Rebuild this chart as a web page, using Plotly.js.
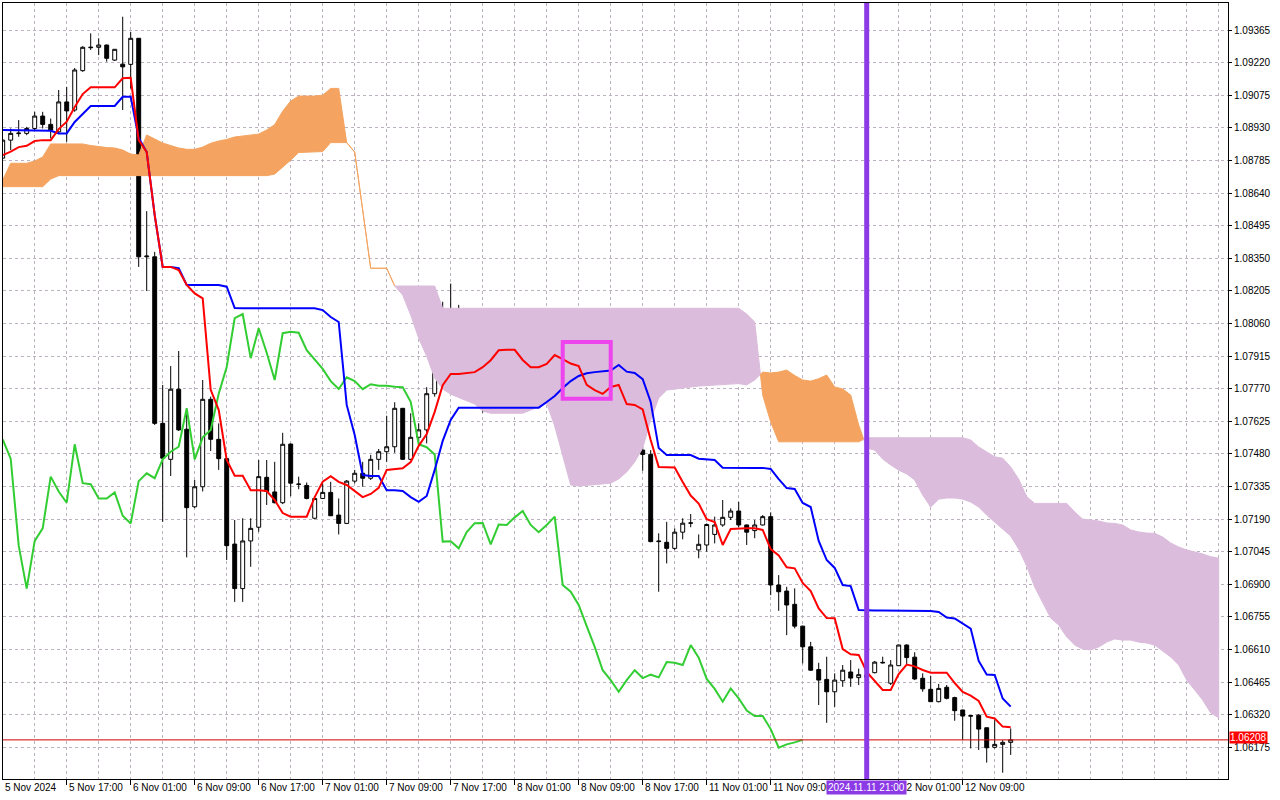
<!DOCTYPE html>
<html><head><meta charset="utf-8">
<script src="https://cdn.plot.ly/plotly-3.0.1.min.js"></script>
<style>html,body{margin:0;padding:0;background:#fff}#chart{width:1280px;height:800px}</style>
</head><body><div id="chart"></div>
<script>
// EURUSD H1, bar index 0 = 5 Nov 2024 09:00
const openP = [1.08796,1.08876,1.08905,1.08906,1.08928,1.08983,1.08946,1.08913,1.09046,1.09010,
1.09185,1.09287,1.09289,1.09299,1.09232,1.09214,1.09213,1.09329,1.08357,1.08357,
1.07616,1.07456,1.07768,1.07590,1.07245,1.07334,1.07723,1.07545,1.07459,1.07079,
1.06881,1.07093,1.07154,1.07376,1.07311,1.07263,1.07524,1.07346,1.07340,1.07194,
1.07282,1.07309,1.07208,1.07171,1.07359,1.07394,1.07372,1.07456,1.07490,1.07512,
1.07683,1.07456,1.07554,1.07587,1.07748,1.07870,1.08084,1.08098,1.07906,1.08039,
1.07938,1.07812,1.08021,1.08027,1.08033,1.07950,1.07898,1.07861,1.07804,1.07768,
1.07818,1.07801,1.07768,1.07795,1.07781,1.07790,1.07783,1.07824,1.07712,1.07526,
1.07497,1.07478,1.07090,1.07087,1.07060,1.07132,1.07172,1.07053,1.07075,1.07122,
1.07164,1.07198,1.07226,1.07164,1.07139,1.07164,1.07201,1.06897,1.06870,1.06811,
1.06714,1.06622,1.06521,1.06477,1.06422,1.06471,1.06510,1.06485,1.06497,1.06507,
1.06553,1.06460,1.06538,1.06630,1.06576,1.06482,1.06433,1.06378,1.06442,1.06396,
1.06341,1.06316,1.06318,1.06262,1.06175,1.06188,1.06197];
const highP = [1.08881,1.08928,1.08965,1.08935,1.09002,1.09002,1.08972,1.09099,1.09113,1.09197,
1.09294,1.09351,1.09329,1.09301,1.09281,1.09425,1.09358,1.09330,1.08560,1.08379,
1.07787,1.07871,1.07938,1.07683,1.07364,1.07809,1.07735,1.07616,1.07460,1.07186,
1.07194,1.07194,1.07453,1.07453,1.07445,1.07574,1.07526,1.07379,1.07353,1.07284,
1.07349,1.07356,1.07282,1.07364,1.07409,1.07445,1.07476,1.07502,1.07650,1.07710,
1.07684,1.07661,1.07616,1.07777,1.07897,1.08157,1.08238,1.08143,1.08057,1.08054,
1.08024,1.08088,1.08046,1.08049,1.08036,1.07957,1.07906,1.07883,1.07831,1.07827,
1.07836,1.07831,1.07817,1.07824,1.07883,1.07795,1.07809,1.07839,1.07720,1.07653,
1.07512,1.07497,1.07127,1.07178,1.07149,1.07194,1.07213,1.07122,1.07171,1.07201,
1.07275,1.07238,1.07267,1.07166,1.07186,1.07208,1.07220,1.06941,1.06889,1.06882,
1.06716,1.06644,1.06551,1.06578,1.06504,1.06541,1.06563,1.06525,1.06514,1.06559,
1.06578,1.06563,1.06632,1.06633,1.06598,1.06504,1.06492,1.06457,1.06452,1.06400,
1.06342,1.06318,1.06323,1.06263,1.06296,1.06207,1.06259];
const lowP = [1.08794,1.08832,1.08891,1.08898,1.08920,1.08928,1.08884,1.08906,1.08869,1.09002,
1.09180,1.09277,1.09254,1.09225,1.09228,1.09010,1.09106,1.08312,1.08205,1.07609,
1.07178,1.07382,1.07582,1.07020,1.07239,1.07313,1.07493,1.07409,1.07008,1.06822,
1.06822,1.06978,1.07134,1.07253,1.07260,1.07257,1.07292,1.07323,1.07278,1.07189,
1.07279,1.07204,1.07122,1.07168,1.07349,1.07334,1.07364,1.07409,1.07445,1.07485,
1.07453,1.07453,1.07519,1.07527,1.07735,1.07827,1.08043,1.07839,1.07866,1.07928,
1.07664,1.07784,1.07987,1.07974,1.07928,1.07868,1.07776,1.07769,1.07768,1.07764,
1.07773,1.07735,1.07750,1.07601,1.07738,1.07667,1.07756,1.07661,1.07438,1.07484,
1.07405,1.07087,1.06867,1.06993,1.07053,1.07100,1.07154,1.07016,1.07045,1.07082,
1.07156,1.07186,1.07154,1.07075,1.07105,1.07162,1.06852,1.06782,1.06674,1.06704,
1.06548,1.06516,1.06363,1.06284,1.06355,1.06444,1.06444,1.06452,1.06474,1.06504,
1.06548,1.06452,1.06537,1.06541,1.06474,1.06422,1.06377,1.06375,1.06388,1.06293,
1.06207,1.06170,1.06163,1.06107,1.06170,1.06062,1.06141];
const closeP = [1.08876,1.08906,1.08907,1.08928,1.08983,1.08946,1.08920,1.09046,1.09006,1.09188,
1.09289,1.09289,1.09299,1.09240,1.09280,1.09202,1.09329,1.08357,1.08360,1.07616,
1.07461,1.07768,1.07587,1.07241,1.07334,1.07723,1.07545,1.07459,1.07072,1.06881,
1.07093,1.07149,1.07379,1.07313,1.07263,1.07523,1.07350,1.07345,1.07282,1.07282,
1.07309,1.07205,1.07171,1.07359,1.07394,1.07372,1.07456,1.07490,1.07512,1.07683,
1.07456,1.07554,1.07587,1.07748,1.07867,1.08084,1.08102,1.07906,1.08039,1.07930,
1.07809,1.08017,1.08023,1.08019,1.07942,1.07898,1.07858,1.07804,1.07769,1.07821,
1.07804,1.07768,1.07790,1.07783,1.07783,1.07779,1.07777,1.07712,1.07523,1.07510,
1.07478,1.07090,1.07092,1.07060,1.07132,1.07172,1.07173,1.07078,1.07166,1.07164,
1.07198,1.07226,1.07164,1.07132,1.07164,1.07201,1.06897,1.06867,1.06808,1.06714,
1.06622,1.06518,1.06474,1.06422,1.06474,1.06518,1.06483,1.06498,1.06486,1.06554,
1.06551,1.06541,1.06630,1.06574,1.06479,1.06435,1.06378,1.06437,1.06393,1.06338,
1.06314,1.06314,1.06256,1.06173,1.06188,1.06197,1.06208];
// Tenkan-sen (red)
const tenkan = [1.08809,1.08825,1.08845,1.08851,1.08872,1.08876,1.08876,1.08925,1.08958,1.09023,
1.09081,1.09111,1.09111,1.09111,1.09111,1.09151,1.09153,1.08876,1.08823,1.08542,
1.08312,1.08312,1.08298,1.08232,1.08194,1.08172,1.07765,1.07676,1.07453,1.07383,
1.07383,1.07319,1.07319,1.07315,1.07275,1.07217,1.07201,1.07201,1.07201,1.07288,
1.07357,1.07381,1.07356,1.07342,1.07315,1.07288,1.07302,1.07329,1.07409,1.07413,
1.07416,1.07444,1.07516,1.07569,1.07667,1.07786,1.07836,1.07836,1.07839,1.07844,
1.07866,1.07897,1.07941,1.07944,1.07943,1.07898,1.07866,1.07866,1.07880,1.07920,
1.07902,1.07882,1.07871,1.07787,1.07764,1.07747,1.07778,1.07787,1.07702,1.07698,
1.07678,1.07542,1.07422,1.07421,1.07420,1.07355,1.07295,1.07259,1.07190,1.07177,
1.07075,1.07146,1.07149,1.07149,1.07149,1.07142,1.07057,1.07028,1.06976,1.06971,
1.06906,1.06870,1.06793,1.06750,1.06749,1.06612,1.06589,1.06586,1.06510,1.06470,
1.06430,1.06430,1.06501,1.06543,1.06535,1.06519,1.06507,1.06507,1.06507,1.06461,
1.06421,1.06405,1.06381,1.06311,1.06303,1.06267,1.06264];
// Kijun-sen (blue)
const kijun = [1.08921,1.08921,1.08921,1.08921,1.08921,1.08921,1.08918,1.08906,1.08906,1.08957,
1.08992,1.09028,1.09028,1.09028,1.09028,1.09069,1.09069,1.08885,1.08823,1.08542,
1.08312,1.08312,1.08307,1.08232,1.08232,1.08232,1.08232,1.08232,1.08224,1.08129,
1.08128,1.08128,1.08128,1.08128,1.08128,1.08128,1.08128,1.08128,1.08128,1.08128,
1.08120,1.08089,1.08067,1.07698,1.07564,1.07386,1.07382,1.07382,1.07319,1.07319,
1.07315,1.07288,1.07267,1.07293,1.07409,1.07538,1.07631,1.07686,1.07686,1.07686,
1.07686,1.07686,1.07686,1.07686,1.07686,1.07686,1.07686,1.07686,1.07711,1.07738,
1.07773,1.07804,1.07827,1.07839,1.07844,1.07849,1.07851,1.07876,1.07846,1.07840,
1.07813,1.07711,1.07506,1.07475,1.07475,1.07475,1.07475,1.07459,1.07455,1.07453,
1.07419,1.07418,1.07418,1.07418,1.07418,1.07418,1.07413,1.07368,1.07328,1.07324,
1.07262,1.07244,1.07093,1.07008,1.06973,1.06897,1.06892,1.06786,1.06784,1.06784,
1.06784,1.06784,1.06784,1.06784,1.06784,1.06783,1.06781,1.06777,1.06752,1.06748,
1.06724,1.06703,1.06559,1.06499,1.06497,1.06392,1.06356];
// Senkou Span A / B (already shifted 26 bars forward, bars 0..152)
const spanA = [1.08698,1.08773,1.08773,1.08773,1.08783,1.08801,1.08859,1.08859,1.08859,1.08859,
1.08859,1.08852,1.08847,1.08843,1.08841,1.08832,1.08814,1.08810,1.08899,1.08881,
1.08863,1.08852,1.08841,1.08835,1.08835,1.08845,1.08862,1.08872,1.08879,1.08890,
1.08894,1.08899,1.08903,1.08921,1.08945,1.09005,1.09050,1.09072,1.09072,1.09072,
1.09076,1.09106,1.09106,1.08865,1.08823,1.08565,1.08306,1.08306,1.08306,1.08227,
1.08187,1.08098,1.07995,1.07915,1.07818,1.07769,1.07746,1.07731,1.07718,1.07702,
1.07671,1.07661,1.07661,1.07661,1.07661,1.07661,1.07675,1.07689,1.07705,1.07604,
1.07475,1.07342,1.07337,1.07340,1.07342,1.07346,1.07350,1.07369,1.07400,1.07444,
1.07506,1.07631,1.07729,1.07764,1.07769,1.07773,1.07778,1.07782,1.07784,1.07787,
1.07787,1.07791,1.07793,1.07787,1.07809,1.07844,1.07840,1.07844,1.07853,1.07829,
1.07809,1.07804,1.07815,1.07831,1.07778,1.07769,1.07742,1.07609,1.07506,1.07497,
1.07457,1.07431,1.07408,1.07391,1.07364,1.07297,1.07244,1.07279,1.07284,1.07284,
1.07279,1.07266,1.07244,1.07208,1.07177,1.07142,1.07115,1.07057,1.06981,1.06888,
1.06817,1.06750,1.06719,1.06666,1.06630,1.06612,1.06608,1.06621,1.06643,1.06657,
1.06652,1.06652,1.06643,1.06639,1.06630,1.06603,1.06577,1.06541,1.06474,1.06430,
1.06385,1.06328,1.06306];
const spanB = [1.08669,1.08669,1.08669,1.08669,1.08669,1.08669,1.08703,1.08718,1.08718,1.08718,
1.08718,1.08718,1.08718,1.08718,1.08718,1.08718,1.08718,1.08718,1.08718,1.08718,
1.08718,1.08718,1.08718,1.08718,1.08718,1.08718,1.08718,1.08718,1.08718,1.08718,
1.08718,1.08718,1.08718,1.08718,1.08725,1.08756,1.08787,1.08821,1.08823,1.08823,
1.08825,1.08865,1.08865,1.08865,1.08823,1.08565,1.08306,1.08306,1.08306,1.08227,
1.08227,1.08227,1.08227,1.08227,1.08227,1.08128,1.08128,1.08128,1.08128,1.08128,
1.08128,1.08128,1.08128,1.08128,1.08128,1.08128,1.08128,1.08128,1.08128,1.08128,
1.08128,1.08128,1.08128,1.08128,1.08128,1.08128,1.08128,1.08128,1.08128,1.08128,
1.08128,1.08128,1.08128,1.08128,1.08128,1.08128,1.08128,1.08128,1.08128,1.08128,
1.08128,1.08128,1.08128,1.08102,1.08067,1.07742,1.07622,1.07534,1.07534,1.07534,
1.07534,1.07534,1.07534,1.07534,1.07534,1.07534,1.07534,1.07534,1.07552,1.07552,
1.07552,1.07552,1.07552,1.07552,1.07552,1.07552,1.07552,1.07552,1.07552,1.07552,
1.07552,1.07542,1.07511,1.07489,1.07467,1.07461,1.07422,1.07368,1.07290,1.07260,
1.07260,1.07260,1.07260,1.07260,1.07222,1.07190,1.07186,1.07182,1.07173,1.07171,
1.07164,1.07142,1.07133,1.07128,1.07127,1.07110,1.07084,1.07066,1.07053,1.07044,
1.07035,1.07023,1.07016];
const chikouShift = 26;
// time-axis labels (the 11 Nov 17:00 label is covered by the cursor label in the original)
const labelBars = [0,8,16,24,32,40,48,56,64,72,80,88,96,112,120];
const timeLabels = ["5 Nov 2024","5 Nov 17:00","6 Nov 01:00","6 Nov 09:00","6 Nov 17:00","7 Nov 01:00","7 Nov 09:00","7 Nov 17:00","8 Nov 01:00","8 Nov 09:00","8 Nov 17:00","11 Nov 01:00","11 Nov 09:00","12 Nov 01:00","12 Nov 09:00"];
const tickBars = [0,8,16,24,32,40,48,56,64,72,80,88,96,104,112,120];
const yTicks = [1.06175,1.06320,1.06465,1.06610,1.06755,1.06900,1.07045,1.07190,1.07335,1.07480,1.07625,1.07770,1.07915,1.08060,1.08205,1.08350,1.08495,1.08640,1.08785,1.08930,1.09075,1.09220,1.09365];
const bidPrice = 1.06208;
const markerBar = 108;
const markerLabel = "2024.11.11 21:00";
const boxBars = [70, 76];
const boxPrices = [1.07726, 1.07978];

const X_RANGE = [0.0375, 153.1625];
const ORANGE = '#f4a460', THISTLE = '#dbbcdc', GRID = '#bdb3c0';
const FONT = {family:'Liberation Sans, Arial, sans-serif', size:10, color:'#000'};
const bars = closeP.map((_, i) => i);

function crossAt(a, b) {
  const da = spanA[a] - spanB[a], db = spanA[b] - spanB[b];
  const t = (da - db) === 0 ? 0 : da / (da - db);
  return {x: a + t, y: spanA[a] + t * (spanA[b] - spanA[a])};
}
const traces = [];
let i = 0;
const n = spanA.length;
while (i < n) {
  const up = spanA[i] >= spanB[i];
  const xs = [], ya = [], yb = [];
  if (i > 0) { const c = crossAt(i - 1, i); xs.push(c.x); ya.push(c.y); yb.push(c.y); }
  let j = i;
  while (j < n && (spanA[j] >= spanB[j]) === up) { xs.push(j); ya.push(spanA[j]); yb.push(spanB[j]); j++; }
  if (j < n) { const c = crossAt(j - 1, j); xs.push(c.x); ya.push(c.y); yb.push(c.y); }
  const col = up ? ORANGE : THISTLE;
  traces.push({type:'scatter', mode:'lines', x: xs.concat(xs.slice().reverse()), y: ya.concat(yb.slice().reverse()),
    fill:'toself', fillcolor: col, line:{color: col, width: 1}, hoverinfo:'skip', showlegend:false});
  i = j;
}
traces.push({type:'candlestick', x: bars, open: openP, high: highP, low: lowP, close: closeP,
  increasing:{line:{color:'#000', width:1}, fillcolor:'#ffffff'},
  decreasing:{line:{color:'#000', width:1}, fillcolor:'#000000'},
  whiskerwidth:0, hoverinfo:'skip', showlegend:false});
const chikou = closeP.slice(chikouShift);
traces.push({type:'scatter', mode:'lines', x: chikou.map((_, k) => k), y: chikou, line:{color:'#32cd32', width:2}, hoverinfo:'skip', showlegend:false});
traces.push({type:'scatter', mode:'lines', x: bars, y: kijun, line:{color:'#0000ff', width:2}, hoverinfo:'skip', showlegend:false});
traces.push({type:'scatter', mode:'lines', x: bars, y: tenkan, line:{color:'#ff0000', width:2}, hoverinfo:'skip', showlegend:false});

const minorBars = [];
for (let b = 4; b <= 152; b += 4) if (!tickBars.includes(b)) minorBars.push(b);

const annotations = labelBars.map((b, k) => ({x: Math.max(b, X_RANGE[0]), y: 0, xref:'x', yref:'paper', xanchor:'left', yanchor:'top',
  text: timeLabels[k], showarrow:false, font: FONT, yshift: -1, xshift: 0}));
annotations.push({x: markerBar, y: 0, xref:'x', yref:'paper', xanchor:'center', yanchor:'top', text: markerLabel,
  showarrow:false, font:{family: FONT.family, size:10, color:'#fff'}, bgcolor:'#8b3ae6', borderpad:1, yshift:-1});
annotations.push({x: 1, y: bidPrice, xref:'paper', yref:'y', xanchor:'left', yanchor:'middle', text: bidPrice.toFixed(5),
  showarrow:false, font:{family: FONT.family, size:10, color:'#fff'}, bgcolor:'#ff0000', borderpad:0, xshift:1, yshift:2});

const layout = {
  width:1280, height:800, margin:{l:3, r:52, t:3, b:21},
  paper_bgcolor:'#fff', plot_bgcolor:'#fff', showlegend:false, hovermode:false, dragmode:false,
  xaxis:{range: X_RANGE, tickmode:'array', tickvals: tickBars, ticks:'outside', ticklen:5, tickcolor:'#000',
    showticklabels:false, showgrid:true, gridcolor: GRID, griddash:'3px,3px', gridwidth:1,
    minor:{tickmode:'array', tickvals: minorBars, showgrid:true, gridcolor: GRID, griddash:'3px,3px', gridwidth:1, ticks:''},
    showline:true, linecolor:'#000', linewidth:1, mirror:true, zeroline:false, rangeslider:{visible:false}, fixedrange:true},
  yaxis:{side:'right', range:[1.06034, 1.09486], tickmode:'array', tickvals: yTicks, ticktext: yTicks.map(v => v.toFixed(5)),
    ticks:'outside', ticklen:3, tickcolor:'#000', tickfont: FONT, showgrid:true, gridcolor: GRID, griddash:'3px,3px', gridwidth:1,
    showline:true, linecolor:'#000', linewidth:1, mirror:true, zeroline:false, fixedrange:true},
  shapes:[
    {type:'line', xref:'paper', yref:'y', x0:0, x1:1, y0: bidPrice, y1: bidPrice, line:{color:'#d00000', width:1}},
    {type:'line', xref:'x', yref:'paper', x0: markerBar, x1: markerBar, y0:0, y1:1, line:{color:'#8b3ae6', width:5}},
    {type:'rect', xref:'x', yref:'y', x0: boxBars[0], x1: boxBars[1], y0: boxPrices[0], y1: boxPrices[1],
      line:{color:'#ee44ee', width:4}, fillcolor:'rgba(0,0,0,0)'}
  ],
  annotations: annotations
};
Plotly.newPlot('chart', traces, layout, {staticPlot:true, displayModeBar:false});
</script>
</body></html>
